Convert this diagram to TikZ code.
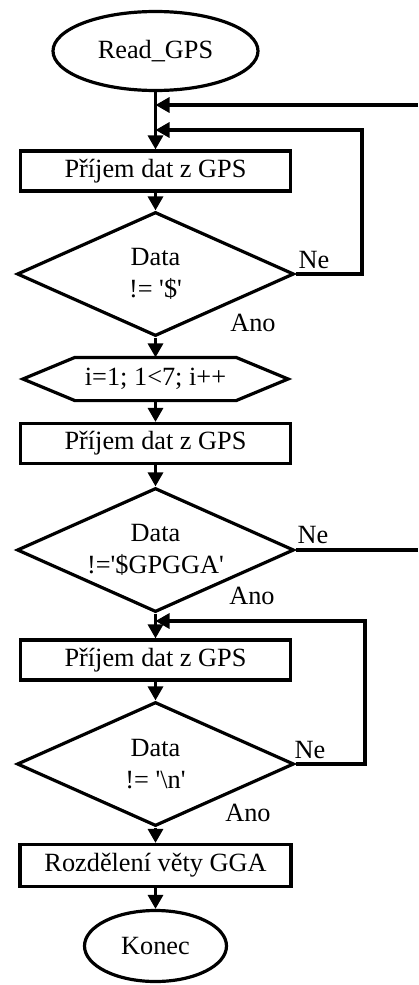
\documentclass[tikz,border=0pt]{standalone}
\usepackage{fontspec}
\newfontfamily\tnr{Liberation Serif}
\usetikzlibrary{shapes.geometric,arrows.meta}
\begin{document}
\begin{tikzpicture}[x=1pt,y=-1pt,line width=3.2pt,
  txt/.style={font=\tnr\fontsize{26.3}{32}\selectfont},
  term/.style={ellipse,draw,txt,inner sep=0pt},
  proc/.style={rectangle,draw,txt,minimum width=270pt,minimum height=40pt,inner sep=0pt},
  dec/.style={diamond,draw,txt,align=center,aspect=2.2,minimum width=277pt,minimum height=124pt,inner sep=0pt},
  loopbox/.style={rectangle,txt,minimum width=158pt,minimum height=40pt,inner sep=0pt},
  lbl/.style={txt,inner sep=0pt},
  arr/.style={-{Triangle[length=14pt,width=15pt]}}]
\useasboundingbox (0,0) rectangle (418,985);

\node[term,minimum width=205pt,minimum height=79pt] (start) at (155.5,51) {Read\_GPS};
\node[proc] (p1) at (155.5,171) {Příjem dat z GPS};
\node[dec] (d1) at (155.5,274) {Data\\!= \textquotesingle\$\textquotesingle};
\node[loopbox] (hex) at (155.5,379) {i=1; 1<7; i++};
\draw (hex.north west) -- (hex.north east) -- ([xshift=52pt]hex.east) -- (hex.south east)
  -- (hex.south west) -- ([xshift=-52pt]hex.west) -- cycle;
\node[proc] (p2) at (155.5,443.5) {Příjem dat z GPS};
\node[dec] (d2) at (155.5,550) {Data\\!=\textquotesingle\$GPGGA\textquotesingle};
\node[proc] (p3) at (155.5,660) {Příjem dat z GPS};
\node[dec] (d3) at (155.5,764) {Data\\!= \textquotesingle\textbackslash n\textquotesingle};
\node[proc,minimum width=271pt,minimum height=42pt] (p4) at (155.5,865.5) {Rozdělení věty GGA};
\node[term,minimum width=142pt,minimum height=71pt] (end) at (155.5,946) {Konec};

% labels
\node[lbl] (ne1) at (314,260) {Ne};
\node[lbl] (ano1) at (253,323) {Ano};
\node[lbl] (ne2) at (313,535) {Ne};
\node[lbl] (ano2) at (252,596) {Ano};
\node[lbl] (ne3) at (310,750) {Ne};
\node[lbl] (ano3) at (248,813) {Ano};

% main flow
\draw[arr] (start.south) -- (p1.north);
\draw[arr] (p1.south) -- (d1.north);
\draw[arr] (d1.south) -- (hex.north);
\draw[arr] (hex.south) -- (p2.north);
\draw[arr] (p2.south) -- (d2.north);
\draw[arr] (d2.south) -- (p3.north);
\draw[arr] (p3.south) -- (d3.north);
\draw[arr] (d3.south) -- (p4.north);
\draw[arr] (p4.south) -- (end.north);

% loops
\coordinate (r1) at (362,130);
\coordinate (e1) at (418,105);
\coordinate (e2) at (418,550);
\coordinate (r3) at (365,621);
\draw[arr] (d1.east) -- (d1.east -| r1) -- (r1) -- (r1 -| start.south);
\draw[arr] (e1) -- (e1 -| start.south);
\draw (d2.east) -- (e2);
\draw[arr] (d3.east) -- (d3.east -| r3) -- (r3) -- (r3 -| d3.north);
\end{tikzpicture}
\end{document}
